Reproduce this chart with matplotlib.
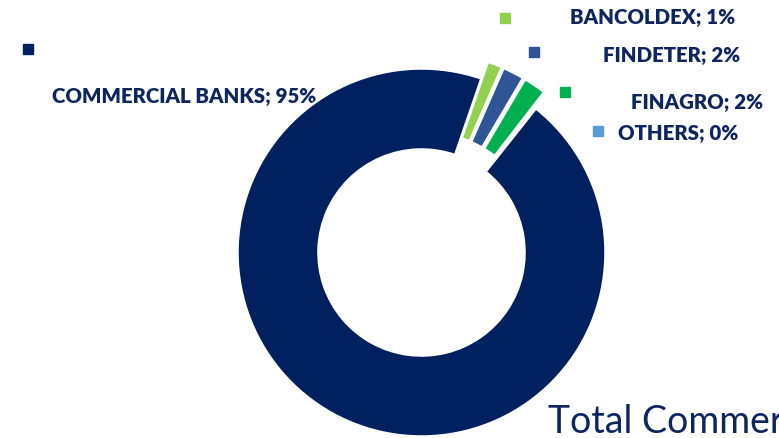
import matplotlib
matplotlib.use("Agg")
import matplotlib.pyplot as plt

# Data (clockwise from just right of 12 o'clock)
categories = ["BANCOLDEX", "FINDETER", "FINAGRO", "OTHERS", "COMMERCIAL BANKS"]
values = [1.3, 1.9, 2.0, 0.2, 94.6]
shown_pct = ["1%", "2%", "2%", "0%", "95%"]
colors = ["#92D050", "#2F5597", "#00B050", "#5B9BD5", "#002060"]
title = "Total Commercial"

W, H = 779, 439
fig = plt.figure(figsize=(W / 100, H / 100), dpi=100)
ax = fig.add_axes([0, 0, 1, 1])

def py(y):
    return H - y

cx, cy, R = 421.5, py(253.5), 184
explode = [18, 18, 18, 18, 0]
wedges, _ = ax.pie(values, colors=colors, startangle=71, counterclock=False,
                   center=(cx, cy), radius=R, explode=explode, frame=True,
                   wedgeprops=dict(width=R * 0.44, edgecolor="white", linewidth=1.8))
for w in wedges:
    w.set_zorder(2)
ax.set_xlim(0, W)
ax.set_ylim(0, H)
ax.set_aspect("equal")
ax.axis("off")

text_color = "#0E2560"
# label layout: marker (x,y) and text (left x, baseline y) in pixels
marker_pos = [(505.5, 18.5), (534, 53), (565.5, 92.5), (598, 132), (27.5, 50)]
text_pos = [(570, 24), (603, 62), (631, 109), (618, 140), (52, 103)]
for cat, pct, col, (mx, my), (tx, ty) in zip(categories, shown_pct, colors, marker_pos, text_pos):
    ax.plot([mx], [py(my)], marker="s", markersize=6.5, color=col, linestyle="none", zorder=3)
    ax.text(tx, py(ty), f"{cat}; {pct}", fontsize=14.7, fontweight=800,
            family="Lato", color=text_color, ha="left", va="baseline", zorder=1)

fig.text(548 / W, 1 - 433 / H, title, fontsize=27, family="Lato",
         color="#0E2560", ha="left", va="baseline")

fig.savefig("out.png", dpi=100)
